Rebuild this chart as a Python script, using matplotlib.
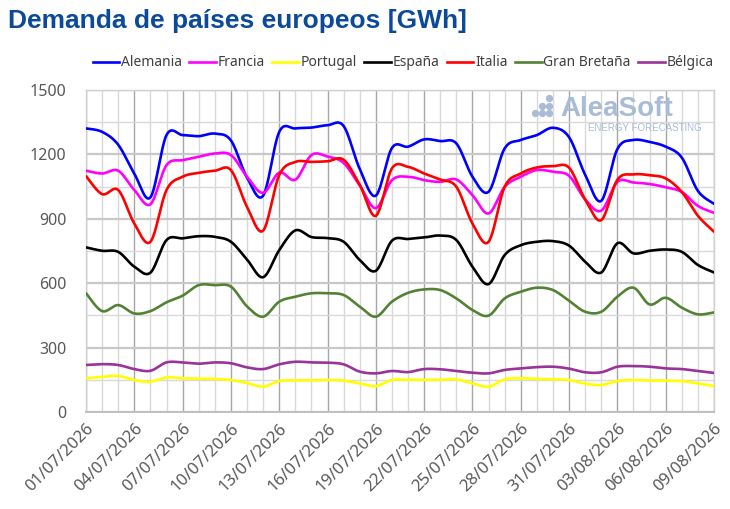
import numpy as np
import matplotlib
matplotlib.use('Agg')
import matplotlib.pyplot as plt
from matplotlib.lines import Line2D
from matplotlib.ticker import MultipleLocator

# ---------------- data ----------------
dates = [f"{d:02d}/07/2026" for d in range(1, 32)] + [f"{d:02d}/08/2026" for d in range(1, 10)]
tick_labels = ["01/07/2026", "04/07/2026", "07/07/2026", "10/07/2026", "13/07/2026",
               "16/07/2026", "19/07/2026", "22/07/2026", "25/07/2026", "28/07/2026",
               "31/07/2026", "03/08/2026", "06/08/2026", "09/08/2026"]

alemania = [1321, 1305, 1245, 1110, 1000, 1290, 1290, 1285, 1297, 1265,
            1092, 1008, 1305, 1321, 1325, 1336, 1332, 1132, 1008, 1230,
            1236, 1270, 1262, 1251, 1096, 1026, 1228, 1267, 1290, 1324,
            1280, 1105, 984, 1225, 1267, 1258, 1236, 1185, 1030, 970]
francia = [1124, 1111, 1124, 1034, 968, 1150, 1173, 1189, 1204, 1197,
           1096, 1021, 1115, 1082, 1197, 1190, 1160, 1055, 950, 1080,
           1096, 1080, 1072, 1083, 1010, 925, 1049, 1096, 1127, 1119,
           1100, 990, 938, 1072, 1069, 1062, 1047, 1025, 960, 928]
portugal = [157, 163, 168, 149, 141, 161, 157, 155, 154, 149,
            135, 118, 144, 147, 147, 149, 146, 133, 121, 149,
            150, 150, 150, 152, 133, 118, 152, 157, 154, 152,
            149, 132, 126, 144, 149, 147, 146, 144, 133, 121]
espana = [767, 751, 746, 677, 649, 801, 809, 819, 816, 793,
          710, 628, 754, 846, 815, 810, 793, 708, 658, 798,
          806, 813, 822, 801, 677, 596, 731, 777, 793, 796,
          775, 700, 650, 786, 739, 751, 757, 746, 685, 650]
italia = [1099, 1015, 1034, 878, 793, 1034, 1096, 1114, 1124, 1127,
          956, 845, 1104, 1165, 1165, 1168, 1175, 1058, 914, 1135,
          1142, 1111, 1083, 1049, 878, 793, 1049, 1111, 1139, 1145,
          1138, 990, 894, 1082, 1107, 1103, 1088, 1025, 914, 840]
gran_bretana = [553, 470, 498, 459, 470, 511, 542, 591, 591, 584,
                492, 444, 514, 537, 553, 553, 545, 491, 444, 514,
                555, 571, 568, 529, 475, 449, 529, 560, 579, 568,
                518, 467, 467, 537, 579, 501, 532, 486, 455, 464]
belgica = [219, 223, 219, 200, 192, 231, 231, 225, 231, 227,
           208, 200, 222, 234, 231, 230, 222, 188, 180, 191,
           186, 200, 199, 191, 183, 180, 196, 203, 209, 211,
           202, 185, 185, 211, 214, 211, 203, 200, 191, 182]

series = [
    ("Alemania", alemania, "#0000FF"),
    ("Francia", francia, "#FF00FF"),
    ("Portugal", portugal, "#FFFF00"),
    ("España", espana, "#000000"),
    ("Italia", italia, "#FF0000"),
    ("Gran Bretaña", gran_bretana, "#548235"),
    ("Bélgica", belgica, "#993399"),
]


def smooth(x, y, n=24):
    """Excel-like smoothed line (Catmull-Rom Bezier) through the points."""
    x = np.asarray(x, float)
    y = np.asarray(y, float)
    px = np.concatenate([[x[0]], x, [x[-1]]])
    py = np.concatenate([[y[0]], y, [y[-1]]])
    tt = np.linspace(0, 1, n, endpoint=False)
    b0 = (1 - tt) ** 3
    b1 = 3 * (1 - tt) ** 2 * tt
    b2 = 3 * (1 - tt) * tt ** 2
    b3 = tt ** 3
    outx, outy = [], []
    for i in range(1, len(px) - 2):
        p0x, p1x, p2x, p3x = px[i - 1], px[i], px[i + 1], px[i + 2]
        p0y, p1y, p2y, p3y = py[i - 1], py[i], py[i + 1], py[i + 2]
        c1x, c1y = p1x + (p2x - p0x) / 6, p1y + (p2y - p0y) / 6
        c2x, c2y = p2x - (p3x - p1x) / 6, p2y - (p3y - p1y) / 6
        outx.append(b0 * p1x + b1 * c1x + b2 * c2x + b3 * p2x)
        outy.append(b0 * p1y + b1 * c1y + b2 * c2y + b3 * p2y)
    outx.append([x[-1]])
    outy.append([y[-1]])
    return np.concatenate(outx), np.concatenate(outy)


# ---------------- figure ----------------
fig = plt.figure(figsize=(7.30, 5.09), dpi=100)
ax = fig.add_axes([86 / 730, 1 - 412 / 509, (714 - 86) / 730, (412 - 90) / 509])

xpos = np.arange(len(dates))
ax.set_xlim(0, len(dates) - 1)
ax.set_ylim(0, 1500)

# grid
ax.xaxis.set_major_locator(MultipleLocator(3))
ax.xaxis.set_minor_locator(MultipleLocator(1))
ax.yaxis.set_major_locator(MultipleLocator(300))
ax.yaxis.set_minor_locator(MultipleLocator(150))
ax.grid(which='minor', axis='both', color='#d9d9d9', lw=1.0, zorder=0)
ax.grid(which='major', axis='x', color='#a6a6a6', lw=1.0, zorder=0)
ax.grid(which='major', axis='y', color='#c8c8c8', lw=1.6, zorder=0)
ax.set_axisbelow(True)
for s in ax.spines.values():
    s.set_color('#d0d0d0')
    s.set_linewidth(1.0)
ax.spines['bottom'].set_color('#bfbfbf')
ax.spines['bottom'].set_linewidth(1.4)

ax.tick_params(which='both', length=0)
ax.tick_params(axis='y', pad=14, labelsize=11.5, labelcolor='#595959')
ax.tick_params(axis='x', pad=6, labelsize=12, labelcolor='#595959')
ax.set_xticks(xpos[::3])
ax.set_xticklabels(tick_labels, rotation=45, ha='right', rotation_mode='anchor',
                   family='Noto Sans')
for lab in ax.get_yticklabels():
    lab.set_family('Noto Sans')

# watermark logo
logo_c = '#a9bcd6'
fig.text(560 / 730, 1 - 116 / 509, "AleaSoft", fontsize=20, fontweight='bold',
         family='Liberation Sans', color=logo_c, ha='left', va='baseline', zorder=1)
fig.text(588 / 730, 1 - 131 / 509, "ENERGY FORECASTING", fontsize=7,
         family='Liberation Sans', color=logo_c, ha='left', va='baseline', zorder=1)
for (dx, dy) in [(535, 113), (542, 106), (542, 113), (549, 98), (549, 106), (549, 113)]:
    fig.add_artist(Line2D([dx / 730], [1 - dy / 509], marker='o', ms=4.2, color=logo_c,
                          lw=0, transform=fig.transFigure))

# lines
handles = []
for name, vals, col in series:
    sx, sy = smooth(xpos, vals)
    ax.plot(sx, sy, color=col, lw=1.9, solid_capstyle='round', zorder=3)
    handles.append(Line2D([], [], color=col, lw=1.9, label=name))

leg = fig.legend(handles=handles, loc='center', bbox_to_anchor=(403 / 730, 1 - 63 / 509),
                 ncol=7, frameon=False, handlelength=1.9,
                 handletextpad=0.12, columnspacing=0.55,
                 prop={'family': 'Noto Sans', 'size': 10})
for t in leg.get_texts():
    t.set_color('#404040')

fig.text(8 / 730, 1 - 21 / 509, "Demanda de países europeos [GWh]", fontsize=19,
         fontweight='bold', color='#0b4a9a', ha='left', va='center',
         family='Liberation Sans')

fig.savefig('out.png', dpi=100)
